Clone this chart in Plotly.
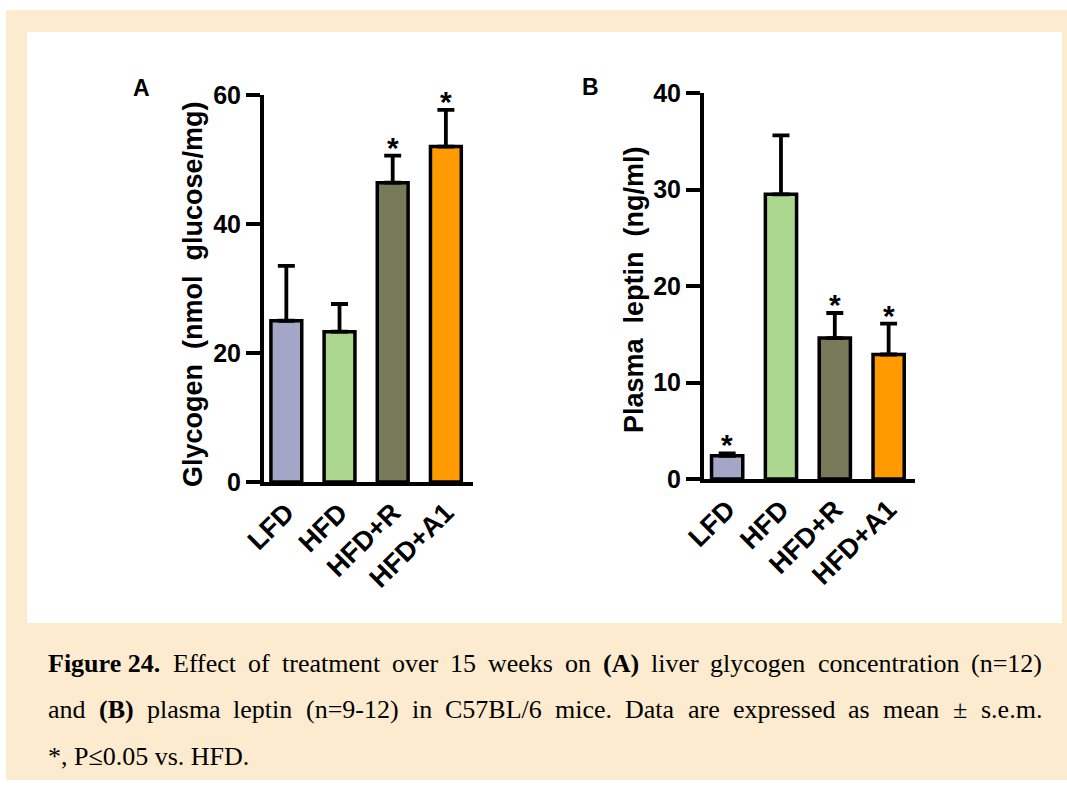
import plotly.graph_objects as go

# ---------------- data ----------------
categories = ["LFD", "HFD", "HFD+R", "HFD+A1"]
glycogen_mean = [25.0, 23.3, 46.4, 52.0]
glycogen_sem = [8.5, 4.3, 4.2, 5.7]
glycogen_sig = [False, False, True, True]
leptin_mean = [2.4, 29.5, 14.6, 12.9]
leptin_sem = [0.25, 6.1, 2.6, 3.2]
leptin_sig = [True, False, True, True]
bar_colors = ["#A3A6C6", "#ABD78F", "#767A58", "#FF9A00"]
glycogen_ticks = [0, 20, 40, 60]
leptin_ticks = [0, 10, 20, 30, 40]

glycogen_title = "Glycogen\u00a0\u00a0(nmol\u00a0\u00a0glucose/mg)"
leptin_title = "Plasma\u00a0\u00a0leptin\u00a0\u00a0(ng/ml)"

caption_lines = [
    [("Figure 24.", True), ("Effect", False), ("of", False), ("treatment", False),
     ("over", False), ("15", False), ("weeks", False), ("on", False), ("(A)", True),
     ("liver", False), ("glycogen", False), ("concentration", False), ("(n=12)", False)],
    [("and", False), ("(B)", True), ("plasma", False), ("leptin", False),
     ("(n=9-12)", False), ("in", False), ("C57BL/6", False), ("mice.", False),
     ("Data", False), ("are", False), ("expressed", False), ("as", False),
     ("mean", False), ("\u00b1", False), ("s.e.m.", False)],
    [("*, P\u22640.05 vs. HFD.", False)],
]
caption_justify = [True, True, False]

W, H = 1067, 787


def px(x):
    return x / W


def py(y):
    return 1 - y / H


# Times (Liberation Serif) advance widths, per em
TIMES_R = {' ': .25, '(': .333, ')': .333, '*': .5, ',': .25, '-': .333, '.': .25,
           '/': .278, '=': .564, '\u00b1': .564, '\u2264': .549,
           'A': .722, 'B': .667, 'C': .667, 'D': .722, 'E': .611, 'F': .556,
           'H': .722, 'L': .611, 'P': .556,
           'a': .444, 'b': .5, 'c': .444, 'd': .5, 'e': .444, 'f': .333, 'g': .5,
           'h': .5, 'i': .278, 'k': .5, 'l': .278, 'm': .778, 'n': .5, 'o': .5,
           'p': .5, 'r': .333, 's': .389, 't': .278, 'u': .5, 'v': .5, 'w': .722,
           'x': .5, 'y': .5}
TIMES_B = {' ': .25, '(': .333, ')': .333, '.': .25, 'A': .722, 'B': .667, 'F': .611,
           'i': .278, 'g': .5, 'u': .556, 'r': .444, 'e': .444}


def text_width(s, bold, size):
    tbl = TIMES_B if bold else TIMES_R
    w = 0
    for ch in s:
        if ch.isdigit():
            w += .5
        else:
            w += tbl.get(ch, TIMES_R.get(ch, .5))
    return w * size


CAP_SIZE = 26
CAP_LEFT, CAP_RIGHT = 47, 1041
cap_centers = [663, 709, 756]

SANS = "Liberation Sans, Arial"

fig = go.Figure()

fig.add_trace(go.Bar(
    x=categories, y=glycogen_mean, width=0.58,
    marker=dict(color=bar_colors, line=dict(color="black", width=3.5)),
    error_y=dict(type="data", symmetric=False, array=glycogen_sem,
                 arrayminus=[0] * len(glycogen_sem), color="black",
                 thickness=3.8, width=8.5),
    xaxis="x", yaxis="y", showlegend=False))

fig.add_trace(go.Bar(
    x=categories, y=leptin_mean, width=0.58,
    marker=dict(color=bar_colors, line=dict(color="black", width=3.5)),
    error_y=dict(type="data", symmetric=False, array=leptin_sem,
                 arrayminus=[0] * len(leptin_sem), color="black",
                 thickness=3.8, width=8.5),
    xaxis="x2", yaxis="y2", showlegend=False))

tickfont_y = dict(family=SANS, size=25, color="black", weight="bold")
tickfont_x = dict(family=SANS, size=27, color="black", weight="bold")

common_x = dict(showline=True, linewidth=4, linecolor="black", ticks="",
                tickangle=-45, tickfont=tickfont_x, showgrid=False, zeroline=False,
                fixedrange=True, automargin=False)
common_y = dict(showline=True, linewidth=4, linecolor="black", ticks="outside",
                ticklen=14, tickwidth=4, tickcolor="black", tickfont=tickfont_y,
                showgrid=False, zeroline=False, fixedrange=True, automargin=False)

annotations = []
shapes = [
    dict(type="rect", xref="paper", yref="paper", x0=px(6), x1=px(1067), y0=py(780), y1=py(10),
         fillcolor="#FCEBCF", line=dict(width=0), layer="below"),
    dict(type="rect", xref="paper", yref="paper", x0=px(27), x1=px(1062), y0=py(623), y1=py(32),
         fillcolor="white", line=dict(width=0), layer="below"),
]

star_font = dict(family=SANS, size=30, color="black", weight="bold")
# significance stars
for i, c in enumerate(categories):
    if glycogen_sig[i]:
        annotations.append(dict(x=c, y=glycogen_mean[i] + glycogen_sem[i], xref="x", yref="y",
                                text="*", showarrow=False, yanchor="bottom", yshift=-10,
                                font=star_font))
    if leptin_sig[i]:
        annotations.append(dict(x=c, y=leptin_mean[i] + leptin_sem[i], xref="x2", yref="y2",
                                text="*", showarrow=False, yanchor="bottom", yshift=-10,
                                font=star_font))

# panel letters and axis titles
for txt, x, y in [("A", 141, 88), ("B", 590, 87)]:
    annotations.append(dict(x=px(x), y=py(y), xref="paper", yref="paper", text=txt,
                            showarrow=False, xanchor="center", yanchor="middle",
                            font=dict(family=SANS, size=23, color="black", weight="bold")))
for txt, x, y in [(glycogen_title, 193, 294), (leptin_title, 634, 290)]:
    annotations.append(dict(x=px(x), y=py(y), xref="paper", yref="paper", text=txt,
                            textangle=-90, showarrow=False, xanchor="center", yanchor="middle",
                            font=dict(family=SANS, size=27, color="black", weight="bold")))

# justified caption
for li, words in enumerate(caption_lines):
    widths = [text_width(w, b, CAP_SIZE) for w, b in words]
    if caption_justify[li] and len(words) > 1:
        gap = (CAP_RIGHT - CAP_LEFT - sum(widths)) / (len(words) - 1)
    else:
        gap = 0.25 * CAP_SIZE
    x = CAP_LEFT
    for (w, b), wd in zip(words, widths):
        annotations.append(dict(x=px(x), y=py(cap_centers[li]), xref="paper", yref="paper",
                                text=f"<b>{w}</b>" if b else w, showarrow=False,
                                xanchor="left", yanchor="middle", borderpad=0,
                                font=dict(family="Liberation Serif, Times New Roman",
                                          size=CAP_SIZE, color="black")))
        x += wd + gap

fig.update_layout(
    width=W, height=H, margin=dict(l=0, r=0, t=0, b=0, pad=0, autoexpand=False),
    paper_bgcolor="white", plot_bgcolor="rgba(0,0,0,0)",
    bargap=0.4,
    xaxis=dict(domain=[px(264), px(473)], range=[-0.42, 3.51], anchor="y", **common_x),
    yaxis=dict(domain=[py(482), py(95)], range=[0, 60], tickvals=glycogen_ticks,
               anchor="x", **common_y),
    xaxis2=dict(domain=[px(704), px(915)], range=[-0.43, 3.49], anchor="y2", **common_x),
    yaxis2=dict(domain=[py(479), py(93)], range=[0, 40], tickvals=leptin_ticks,
                anchor="x2", **common_y),
    shapes=shapes, annotations=annotations,
)

fig.write_html("out.html")
